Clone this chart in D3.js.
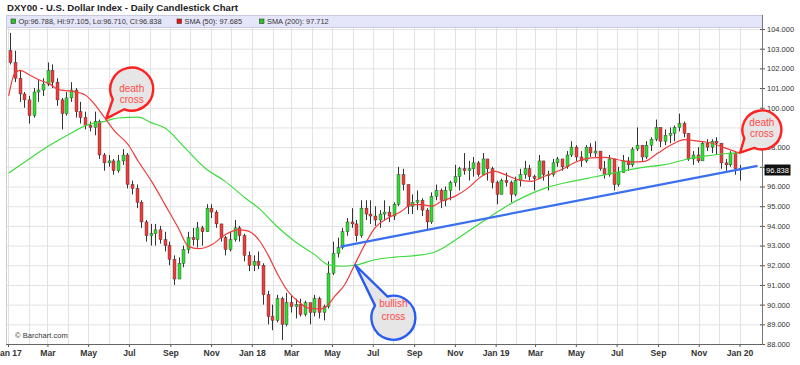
<!DOCTYPE html>
<html>
<head>
<meta charset="utf-8">
<script src="https://cdn.jsdelivr.net/npm/d3@7"></script>
<style>
body { margin: 0; background: #fff; }
svg { display: block; font-family: "Liberation Sans", Arial, sans-serif; }
</style>
</head>
<body>
<script>
var width = 800,
    height = 365;

// weekly candles, first week starts Sun 2017-01-01
var firstWeek = "2017-01-01";
var opens = [102.9,102.3,101.5,100.7,100.4,99.6,100.8,100.9,101.2,101.9,101.3,100.4,99.7,100.5,100.9,99.8,99.5,99.1,99.0,99.3,
  97.6,97.2,97.3,96.8,97.3,97.6,96.1,95.9,95.2,94.2,93.5,93.6,93.8,93.3,93.0,92.3,91.3,92.1,92.8,93.4,
  93.3,93.9,93.7,94.9,94.7,94.1,93.4,92.8,93.3,93.9,93.5,92.5,92.0,92.2,92.0,90.5,89.4,89.2,90.3,89.0,
  90.1,89.9,90.0,89.5,90.1,89.6,90.3,89.6,89.9,91.6,92.6,92.9,93.7,94.2,94.1,93.5,94.9,94.6,94.5,94.3,
  94.6,94.7,94.5,95.1,96.6,96.1,95.0,95.2,95.3,94.8,94.2,95.5,95.8,95.3,95.8,96.2,96.5,96.9,96.8,96.9,
  97.2,96.6,97.4,96.9,96.2,95.6,96.3,96.2,95.6,96.3,96.6,96.9,96.5,96.4,97.3,96.6,96.6,97.2,97.4,97.0,
  97.6,98.0,97.5,97.3,98.0,97.7,97.8,96.9,96.6,97.4,96.1,96.7,97.3,97.1,97.9,98.1,97.5,98.1,98.4,99.0,
  98.3,98.6,98.7,99.0,99.2,98.7,97.4,97.6,97.3,98.2,98.0,98.3,98.2,97.2,97.1,97.7,96.9];
var highs = [103.8,102.9,101.9,100.8,100.6,101.0,101.4,101.5,102.3,102.2,101.5,100.5,100.8,101.3,101.0,100.3,99.8,99.3,99.8,99.4,
  97.7,97.6,97.4,97.6,97.9,97.7,96.3,96.1,95.3,94.3,94.1,94.1,94.0,93.7,93.2,92.5,92.4,93.0,93.7,93.9,
  94.2,94.0,95.1,95.1,94.8,94.1,93.5,93.7,94.3,94.0,93.6,92.7,92.5,92.7,92.1,90.7,90.0,90.5,90.4,90.6,
  90.5,90.3,90.3,90.2,90.1,90.5,90.4,90.0,92.2,93.2,93.4,93.9,94.4,94.9,94.3,95.3,95.3,95.3,95.0,94.8,
  95.3,95.0,95.2,97.0,96.9,96.1,95.6,95.8,95.4,94.9,95.7,96.1,95.9,96.0,96.3,97.1,97.0,97.7,97.3,97.5,
  97.3,97.7,97.4,97.0,96.3,96.4,96.7,96.3,96.5,96.9,97.3,97.1,96.6,97.6,97.3,96.8,97.4,97.5,97.4,97.8,
  98.3,98.1,97.8,98.1,98.2,98.3,97.8,97.3,97.6,97.4,97.0,97.6,97.5,98.0,99.0,98.1,98.3,98.5,99.4,99.0,
  98.9,99.0,99.1,99.7,99.3,98.7,97.8,98.0,98.3,98.4,98.4,98.5,98.2,97.4,97.8,97.8,97.1];
var lows = [102.2,101.3,100.3,100.0,99.2,99.5,100.3,100.6,101.1,101.0,100.1,98.9,99.6,100.3,99.5,99.2,98.9,98.8,98.6,97.4,
  96.8,97.0,96.6,96.7,97.1,95.9,95.6,94.9,93.9,93.2,93.0,93.0,93.1,92.7,92.0,91.0,91.3,91.9,92.6,93.0,
  92.9,93.0,93.7,94.4,93.9,93.2,92.5,92.7,93.2,93.2,92.2,91.7,91.7,91.8,90.0,89.0,88.7,89.1,88.2,88.9,
  89.6,89.3,89.4,89.4,89.0,89.4,89.3,89.2,89.8,91.5,92.4,92.8,93.5,93.9,93.2,93.4,94.3,94.1,94.0,93.9,
  94.3,94.2,94.3,95.0,95.8,94.6,94.6,94.8,94.5,93.8,94.1,95.3,94.9,95.0,95.3,96.0,95.8,96.6,96.3,96.5,
  96.5,96.6,96.3,95.9,95.1,95.6,96.0,95.2,95.5,96.0,96.4,96.3,95.8,96.4,96.3,95.8,96.5,97.0,96.8,96.9,
  97.5,97.3,97.0,97.2,97.5,97.5,96.8,96.4,96.5,95.8,96.0,96.7,96.8,97.0,97.8,97.3,97.4,97.8,98.3,98.0,
  98.1,98.2,98.3,98.8,98.5,97.3,97.1,97.2,97.3,97.8,97.7,97.6,96.9,96.8,97.0,96.6,96.3];
var closes = [102.3,101.5,100.7,100.4,99.6,100.8,100.9,101.2,101.9,101.3,100.4,99.7,100.5,100.9,99.8,99.5,99.1,99.0,99.3,97.6,
  97.2,97.3,96.8,97.3,97.6,96.1,95.9,95.2,94.2,93.5,93.6,93.8,93.3,93.0,92.3,91.3,92.1,92.8,93.4,93.3,
  93.9,93.7,94.9,94.7,94.1,93.4,92.8,93.3,93.9,93.5,92.5,92.0,92.2,92.0,90.5,89.4,89.2,90.3,89.0,90.1,
  89.9,90.0,89.5,90.1,89.6,90.3,89.6,89.9,91.6,92.6,92.9,93.7,94.2,94.1,93.5,94.9,94.6,94.5,94.3,94.6,
  94.7,94.5,95.1,96.6,96.1,95.0,95.2,95.3,94.8,94.2,95.5,95.8,95.3,95.8,96.2,96.5,96.9,96.8,96.9,97.2,
  96.6,97.4,96.9,96.2,95.6,96.3,96.2,95.6,96.3,96.6,96.9,96.5,96.4,97.3,96.6,96.6,97.2,97.4,97.0,97.6,
  98.0,97.5,97.3,98.0,97.7,97.8,96.9,96.6,97.4,96.1,96.7,97.3,97.1,97.9,98.1,97.5,98.1,98.4,99.0,98.3,
  98.6,98.7,99.0,99.2,98.7,97.4,97.6,97.3,98.2,98.0,98.3,98.2,97.2,97.1,97.7,96.9,96.84];

// moving averages
var sma50Dates = ["2017-01-02","2017-01-11","2017-01-19","2017-02-03","2017-02-18","2017-03-05","2017-03-17","2017-04-06",
  "2017-04-26","2017-05-11","2017-05-26","2017-06-10","2017-06-30","2017-07-15","2017-08-04","2017-08-24","2017-09-13",
  "2017-09-28","2017-10-13","2017-11-02","2017-11-22","2017-12-12","2017-12-27","2018-01-06","2018-01-13","2018-01-25",
  "2018-02-09","2018-02-24","2018-03-11","2018-03-26","2018-04-15","2018-04-23","2018-05-05","2018-05-20","2018-06-04",
  "2018-06-19","2018-07-04","2018-07-24","2018-08-13","2018-08-28","2018-09-12","2018-09-27","2018-10-12","2018-11-01",
  "2018-11-21","2018-12-11","2018-12-31","2019-01-15","2019-02-03","2019-02-23","2019-03-15","2019-04-09","2019-05-04",
  "2019-05-24","2019-06-13","2019-07-03","2019-07-23","2019-08-12","2019-09-01","2019-09-21","2019-10-11","2019-10-31",
  "2019-11-20","2019-12-10","2020-01-02"];
var sma50 = [100.6,101.75,101.9,101.65,101.4,101.2,100.92,100.84,100.66,100.16,99.48,98.8,98.12,97.28,96.26,95.08,93.89,
  92.96,92.84,93.04,93.55,93.81,93.73,93.5,93.22,92.54,91.52,90.68,90.17,89.83,89.78,89.92,90.42,91.01,92.03,
  93.04,93.89,94.4,94.74,95.08,95.08,95.0,95.25,95.5,95.93,96.52,96.77,96.6,96.35,96.26,96.52,96.85,97.28,
  97.45,97.48,97.36,97.24,97.28,97.7,98.12,98.38,98.3,98.21,97.96,97.69];
var sma200Dates = ["2017-01-02","2017-01-31","2017-03-02","2017-04-01","2017-05-01","2017-05-26","2017-06-15","2017-07-15",
  "2017-08-04","2017-08-24","2017-09-23","2017-10-23","2017-11-22","2017-12-22","2018-01-13","2018-02-05","2018-03-06",
  "2018-04-05","2018-04-25","2018-05-15","2018-06-04","2018-07-04","2018-08-03","2018-09-02","2018-10-02","2018-10-22",
  "2018-11-21","2018-12-21","2019-01-17","2019-02-14","2019-03-16","2019-04-25","2019-06-03","2019-07-08","2019-08-12",
  "2019-09-11","2019-10-11","2019-11-10","2019-12-05","2020-01-02"];
var sma200 = [96.69,97.36,98.04,98.63,99.14,99.31,99.48,99.52,99.23,98.97,97.96,96.94,96.26,95.42,94.85,94.06,93.22,
  92.54,92.03,91.95,92.0,92.28,92.41,92.49,92.67,93.04,93.73,94.4,95.0,95.5,95.92,96.26,96.52,96.77,96.98,
  97.11,97.36,97.54,97.65,97.71];

var trendDates = ["2018-05-14", "2020-01-28"],
    trendValues = [92.95, 97.05];

var lastBar = { open: 96.788, high: 97.105, low: 96.710, close: 96.838 },
    sma50Last = 97.685,
    sma200Last = 97.712;

var yTicks = [88,89,90,91,92,93,94,95,96,97,98,99,100,101,102,103,104];
var xTickDates = ["2017-01-01","2017-03-01","2017-05-01","2017-07-01","2017-09-01","2017-11-01","2018-01-01","2018-03-01",
  "2018-05-01","2018-07-01","2018-09-01","2018-11-01","2019-01-01","2019-03-01","2019-05-01","2019-07-01","2019-09-01",
  "2019-11-01","2020-01-01"];
var xTickLabels = ["Jan 17","Mar","May","Jul","Sep","Nov","Jan 18","Mar","May","Jul","Sep","Nov","Jan 19","Mar","May",
  "Jul","Sep","Nov","Jan 20"];

// callouts: where the tail points, and the words in the bubble
var calloutDates = ["2017-05-28", "2018-06-05", "2020-01-02"],
    calloutValues = [99.45, 92.0, 97.72],
    calloutText = [["death", "cross"], ["bullish", "cross"], ["death", "cross"]];

var parse = d3.timeParse("%Y-%m-%d");
var plotL = 6, plotR = 762, plotT = 27, plotB = 344;

var svg = d3.select("body").append("svg")
    .attr("width", width)
    .attr("height", height);

var x = d3.scaleTime()
    .domain([parse("2017-01-01"), parse("2020-01-01")])
    .range([8, 739.5]);
var y = d3.scaleLinear()
    .domain([88, 104])
    .range([plotB, 29]);

// bubble placement (offset of the circle from the point the tail marks)
var bubbleStyle = [
    { dx: 25.5, dy: -29.5, r: 21.5, color: "#ff2020", t1: 2.5, t2: 14 },
    { dx: 38, dy: 52.5, r: 22, color: "#2a5cf0", t1: -11, t2: 2.5 },
    { dx: 21.7, dy: -22.7, r: 19.5, color: "#ff2020", t1: -4, t2: 7.3 }
];
var bubbles = calloutDates.map(function(d, i) {
    var tx = x(parse(d)), ty = y(calloutValues[i]), s = bubbleStyle[i];
    return { tx: tx, ty: ty, cx: tx + s.dx, cy: ty + s.dy, s: s, text: calloutText[i] };
});

// grid
svg.append("g").selectAll("line.h")
    .data(yTicks).enter().append("line")
    .attr("x1", plotL).attr("x2", plotR)
    .attr("y1", d => y(d) + 0.5).attr("y2", d => y(d) + 0.5)
    .attr("stroke", "#e2e2e2");
var months = d3.timeMonth.range(parse("2017-01-01"), parse("2020-02-01"))
    .filter(d => x(d) < plotR - 1);
svg.append("g").selectAll("line.v")
    .data(months).enter().append("line")
    .attr("x1", d => Math.round(x(d)) + 0.5).attr("x2", d => Math.round(x(d)) + 0.5)
    .attr("y1", plotT).attr("y2", plotB)
    .attr("stroke", "#e2e2e2");

// title + legend bar
svg.append("text")
    .attr("x", 7).attr("y", 11)
    .attr("font-size", 9.6).attr("font-weight", "bold").attr("fill", "#222")
    .text("DXY00 - U.S. Dollar Index - Daily Candlestick Chart");
svg.append("rect")
    .attr("x", plotL + 0.5).attr("y", 15.5).attr("width", plotR - plotL).attr("height", 12)
    .attr("fill", "#e6e6fa").attr("stroke", "#c9c9e2");
var legendItems = [
    { x: 11, color: "#22cc22", text: "Op:" + lastBar.open.toFixed(3) + ", Hi:" + lastBar.high.toFixed(3) +
        ", Lo:" + lastBar.low.toFixed(3) + ", Cl:" + lastBar.close.toFixed(3) },
    { x: 177, color: "#ee1111", text: "SMA (50): " + sma50Last.toFixed(3) },
    { x: 259.5, color: "#22cc22", text: "SMA (200): " + sma200Last.toFixed(3) }
];
var lg = svg.append("g").selectAll("g").data(legendItems).enter().append("g");
lg.append("rect")
    .attr("x", d => d.x).attr("y", 19).attr("width", 4.5).attr("height", 4.5)
    .attr("fill", d => d.color).attr("stroke", "#333").attr("stroke-width", 0.6);
lg.append("text")
    .attr("x", d => d.x + 7.5).attr("y", 24.3)
    .attr("font-size", 7.4).attr("fill", "#333")
    .text(d => d.text);

// candles
var weekStarts = d3.timeWeek.range(parse(firstWeek), parse("2020-01-05"));
var candles = closes.map((c, i) => ({
    date: d3.timeHour.offset(weekStarts[i], 84),
    o: opens[i], h: highs[i], l: lows[i], c: c
}));
var cg = svg.append("g");
cg.selectAll("line")
    .data(candles).enter().append("line")
    .attr("x1", d => Math.round(x(d.date)) + 0.5).attr("x2", d => Math.round(x(d.date)) + 0.5)
    .attr("y1", d => y(d.h)).attr("y2", d => y(d.l))
    .attr("stroke", "#333").attr("stroke-width", 1);
cg.selectAll("rect")
    .data(candles).enter().append("rect")
    .attr("x", d => Math.round(x(d.date)) - 1)
    .attr("y", d => y(Math.max(d.o, d.c)))
    .attr("width", 3)
    .attr("height", d => Math.max(1, Math.abs(y(d.o) - y(d.c))))
    .attr("fill", d => d.c >= d.o ? "#2ee02e" : "#f23a3a")
    .attr("stroke", "#333").attr("stroke-width", 0.4);

// moving averages
var line = d3.line()
    .x(d => x(d[0])).y(d => y(d[1]))
    .curve(d3.curveMonotoneX);
svg.append("path")
    .datum(sma200Dates.map((d, i) => [parse(d), sma200[i]]))
    .attr("d", line).attr("fill", "none")
    .attr("stroke", "#3ddc3d").attr("stroke-width", 1.2);
svg.append("path")
    .datum(sma50Dates.map((d, i) => [parse(d), sma50[i]]))
    .attr("d", line).attr("fill", "none")
    .attr("stroke", "#f03a3a").attr("stroke-width", 1.2);

// trend line
svg.append("line")
    .attr("x1", x(parse(trendDates[0]))).attr("y1", y(trendValues[0]))
    .attr("x2", x(parse(trendDates[1]))).attr("y2", y(trendValues[1]))
    .attr("stroke", "#3a6ff0").attr("stroke-width", 2.2);

// axes
var xAxis = svg.append("g")
    .attr("transform", "translate(0," + plotB + ")")
    .call(d3.axisBottom(x)
        .tickValues(xTickDates.map(parse))
        .tickFormat((d, i) => xTickLabels[i])
        .tickSize(3).tickPadding(3));
xAxis.select(".domain").remove();
xAxis.selectAll("line").attr("stroke", "#555");
xAxis.selectAll("text")
    .attr("font-size", 8.6).attr("font-weight", "bold").attr("fill", "#333")
    .attr("font-family", "Liberation Sans, Arial, sans-serif");
svg.append("line")
    .attr("x1", plotL).attr("x2", plotR).attr("y1", plotB + 0.5).attr("y2", plotB + 0.5)
    .attr("stroke", "#666");
svg.append("line")
    .attr("x1", plotL + 0.5).attr("x2", plotL + 0.5).attr("y1", plotT).attr("y2", plotB)
    .attr("stroke", "#ccc");

// labels hidden under the last-price tag or a bubble are left out
var lastY = y(lastBar.close);
function labelHidden(v) {
    var ly = y(v), lx = plotR + 16;
    if (Math.abs(ly - lastY) < 8) return true;
    return bubbles.some(b => Math.hypot(lx - b.cx, ly - b.cy) < b.s.r);
}
var yAxis = svg.append("g")
    .attr("transform", "translate(" + plotR + ",0)")
    .call(d3.axisRight(y)
        .tickValues(yTicks)
        .tickFormat(d => labelHidden(d) ? "" : d3.format(".3f")(d))
        .tickSize(3).tickPadding(2));
yAxis.select(".domain").remove();
yAxis.selectAll("line").attr("stroke", "#555").attr("x1", -2);
yAxis.selectAll("text")
    .attr("font-size", 7.5).attr("fill", "#333")
    .attr("font-family", "Liberation Sans, Arial, sans-serif");
svg.append("line")
    .attr("x1", plotR + 0.5).attr("x2", plotR + 0.5).attr("y1", 15).attr("y2", plotB + 1)
    .attr("stroke", "#777");

// last price tag
svg.append("rect")
    .attr("x", plotR + 2.5).attr("y", lastY - 5.5).attr("width", 26).attr("height", 11)
    .attr("fill", "#111");
svg.append("text")
    .attr("x", plotR + 4).attr("y", lastY + 2.7)
    .attr("font-size", 7.5).attr("fill", "#fff")
    .text(lastBar.close.toFixed(3));

// copyright
svg.append("text")
    .attr("x", 15).attr("y", 338)
    .attr("font-size", 7.6).attr("fill", "#333")
    .text("\u00a9 Barchart.com");

// speech bubbles
function bubblePath(cx, cy, r, tx, ty, half) {
    var dir = Math.atan2(ty - cy, tx - cx),
        a1 = dir - half, a2 = dir + half;
    var p1 = [cx + r * Math.cos(a1), cy + r * Math.sin(a1)],
        p2 = [cx + r * Math.cos(a2), cy + r * Math.sin(a2)];
    return "M" + p2 + "A" + r + "," + r + " 0 1 1 " + p1 + "L" + tx + "," + ty + "Z";
}
bubbles.forEach(function(b) {
    svg.append("path")
        .attr("d", bubblePath(b.cx, b.cy, b.s.r, b.tx, b.ty, 0.36))
        .attr("fill", "#e6e6e6").attr("stroke", b.s.color).attr("stroke-width", 2.4)
        .attr("stroke-linejoin", "round");
    svg.append("text")
        .attr("x", b.cx).attr("y", b.cy + b.s.t1)
        .attr("text-anchor", "middle").attr("font-size", 10).attr("fill", "#ff4a4a")
        .text(b.text[0]);
    svg.append("text")
        .attr("x", b.cx).attr("y", b.cy + b.s.t2)
        .attr("text-anchor", "middle").attr("font-size", 10).attr("fill", "#ff4a4a")
        .text(b.text[1]);
});
</script>
</body>
</html>
